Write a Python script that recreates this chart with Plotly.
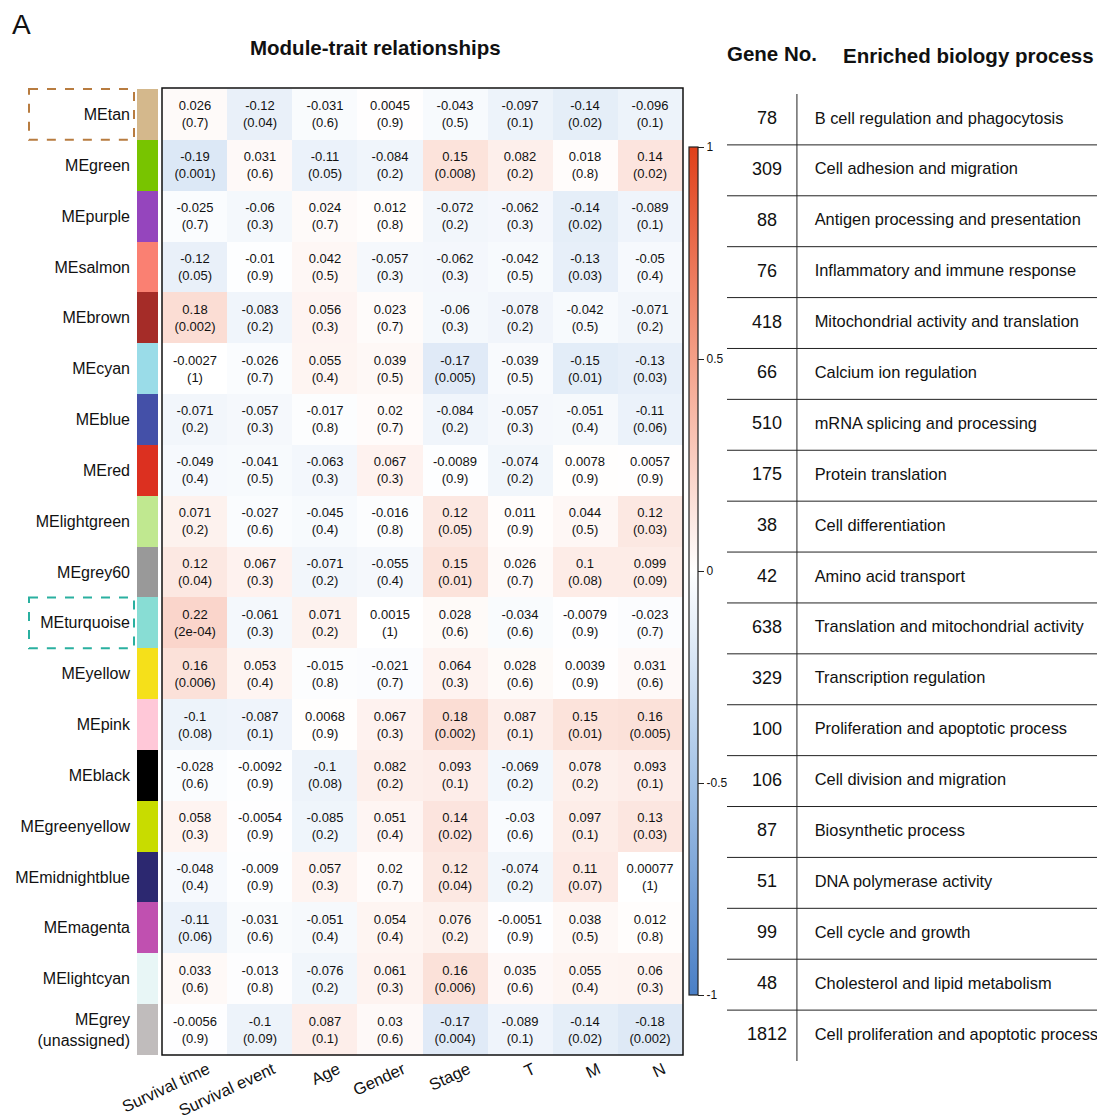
import plotly.graph_objects as go

OFF = 8  # default page body margin
W, H = 1105 - OFF, 1118 - OFF

modules = ["MEtan", "MEgreen", "MEpurple", "MEsalmon", "MEbrown", "MEcyan", "MEblue", "MEred",
           "MElightgreen", "MEgrey60", "MEturquoise", "MEyellow", "MEpink", "MEblack",
           "MEgreenyellow", "MEmidnightblue", "MEmagenta", "MElightcyan", "MEgrey<br>(unassigned)"]
module_colors = ["#d4b88c", "#78c400", "#9545bd", "#fa8072", "#a52c28", "#9adce8", "#4450a8", "#dc3020",
                 "#c0e890", "#999999", "#88ddd4", "#f5e01a", "#ffc8d8", "#000000",
                 "#c8dc00", "#2c2870", "#c050b0", "#e8f6f6", "#c0bcbc"]
traits = ["Survival time", "Survival event", "Age", "Gender", "Stage", "T", "M", "N"]

cor = [
    [0.026, -0.12, -0.031, 0.0045, -0.043, -0.097, -0.14, -0.096],
    [-0.19, 0.031, -0.11, -0.084, 0.15, 0.082, 0.018, 0.14],
    [-0.025, -0.06, 0.024, 0.012, -0.072, -0.062, -0.14, -0.089],
    [-0.12, -0.01, 0.042, -0.057, -0.062, -0.042, -0.13, -0.05],
    [0.18, -0.083, 0.056, 0.023, -0.06, -0.078, -0.042, -0.071],
    [-0.0027, -0.026, 0.055, 0.039, -0.17, -0.039, -0.15, -0.13],
    [-0.071, -0.057, -0.017, 0.02, -0.084, -0.057, -0.051, -0.11],
    [-0.049, -0.041, -0.063, 0.067, -0.0089, -0.074, 0.0078, 0.0057],
    [0.071, -0.027, -0.045, -0.016, 0.12, 0.011, 0.044, 0.12],
    [0.12, 0.067, -0.071, -0.055, 0.15, 0.026, 0.1, 0.099],
    [0.22, -0.061, 0.071, 0.0015, 0.028, -0.034, -0.0079, -0.023],
    [0.16, 0.053, -0.015, -0.021, 0.064, 0.028, 0.0039, 0.031],
    [-0.1, -0.087, 0.0068, 0.067, 0.18, 0.087, 0.15, 0.16],
    [-0.028, -0.0092, -0.1, 0.082, 0.093, -0.069, 0.078, 0.093],
    [0.058, -0.0054, -0.085, 0.051, 0.14, -0.03, 0.097, 0.13],
    [-0.048, -0.009, 0.057, 0.02, 0.12, -0.074, 0.11, 0.00077],
    [-0.11, -0.031, -0.051, 0.054, 0.076, -0.0051, 0.038, 0.012],
    [0.033, -0.013, -0.076, 0.061, 0.16, 0.035, 0.055, 0.06],
    [-0.0056, -0.1, 0.087, 0.03, -0.17, -0.089, -0.14, -0.18],
]
pval = [
    ["0.7", "0.04", "0.6", "0.9", "0.5", "0.1", "0.02", "0.1"],
    ["0.001", "0.6", "0.05", "0.2", "0.008", "0.2", "0.8", "0.02"],
    ["0.7", "0.3", "0.7", "0.8", "0.2", "0.3", "0.02", "0.1"],
    ["0.05", "0.9", "0.5", "0.3", "0.3", "0.5", "0.03", "0.4"],
    ["0.002", "0.2", "0.3", "0.7", "0.3", "0.2", "0.5", "0.2"],
    ["1", "0.7", "0.4", "0.5", "0.005", "0.5", "0.01", "0.03"],
    ["0.2", "0.3", "0.8", "0.7", "0.2", "0.3", "0.4", "0.06"],
    ["0.4", "0.5", "0.3", "0.3", "0.9", "0.2", "0.9", "0.9"],
    ["0.2", "0.6", "0.4", "0.8", "0.05", "0.9", "0.5", "0.03"],
    ["0.04", "0.3", "0.2", "0.4", "0.01", "0.7", "0.08", "0.09"],
    ["2e-04", "0.3", "0.2", "1", "0.6", "0.6", "0.9", "0.7"],
    ["0.006", "0.4", "0.8", "0.7", "0.3", "0.6", "0.9", "0.6"],
    ["0.08", "0.1", "0.9", "0.3", "0.002", "0.1", "0.01", "0.005"],
    ["0.6", "0.9", "0.08", "0.2", "0.1", "0.2", "0.2", "0.1"],
    ["0.3", "0.9", "0.2", "0.4", "0.02", "0.6", "0.1", "0.03"],
    ["0.4", "0.9", "0.3", "0.7", "0.04", "0.2", "0.07", "1"],
    ["0.06", "0.6", "0.4", "0.4", "0.2", "0.9", "0.5", "0.8"],
    ["0.6", "0.8", "0.2", "0.3", "0.006", "0.6", "0.4", "0.3"],
    ["0.9", "0.09", "0.1", "0.6", "0.004", "0.1", "0.02", "0.002"],
]
gene_no = ["78", "309", "88", "76", "418", "66", "510", "175", "38", "42", "638", "329",
           "100", "106", "87", "51", "99", "48", "1812"]
processes = ["B cell regulation and phagocytosis", "Cell adhesion and migration",
             "Antigen processing and presentation", "Inflammatory and immune response",
             "Mitochondrial activity and translation", "Calcium ion regulation",
             "mRNA splicing and processing", "Protein translation", "Cell differentiation",
             "Amino acid transport", "Translation and mitochondrial activity",
             "Transcription regulation", "Proliferation and apoptotic process",
             "Cell division and migration", "Biosynthetic process", "DNA polymerase activity",
             "Cell cycle and growth", "Cholesterol and lipid metabolism",
             "Cell proliferation and apoptotic process"]
highlight = {"MEtan": "#b87c40", "MEturquoise": "#2ab0a0"}

FONT = "Liberation Sans, Arial, Helvetica, sans-serif"


def px(x):
    return (x - OFF) / W


def py(y):
    return 1 - (y - OFF) / H


cell_text = [[f"{cor[i][j]:g}<br>({pval[i][j]})" for j in range(len(traits))] for i in range(len(modules))]

fig = go.Figure()

colorscale = [[0.0, "#4a7fc6"], [0.25, "#a3c2e6"], [0.5, "#ffffff"], [0.75, "#f4a088"], [1.0, "#e0401a"]]

fig.add_trace(go.Heatmap(
    z=cor, x=traits, y=modules, text=cell_text, texttemplate="%{text}",
    textfont=dict(family=FONT, size=13, color="#111111"),
    zmin=-1, zmax=1, colorscale=colorscale, xaxis="x", yaxis="y",
    hoverinfo="skip",
    colorbar=dict(x=px(689), xanchor="left", xpad=0, y=py(571), yanchor="middle", ypad=0,
                  len=848 / H, lenmode="fraction", thickness=9, outlinewidth=1.2, outlinecolor="#222",
                  tickvals=[-1, -0.5, 0, 0.5, 1], ticktext=["-1", "-0.5", "0", "0.5", "1"],
                  ticks="outside", ticklen=6, tickcolor="#222", tickwidth=1,
                  tickfont=dict(family=FONT, size=12, color="#111")),
))

n = len(modules)
strip_scale = [[i / (n - 1), c] for i, c in enumerate(module_colors)]
fig.add_trace(go.Heatmap(
    z=[[i] for i in range(n)], x=["color"], y=modules, zmin=0, zmax=n - 1,
    colorscale=strip_scale, showscale=False, xaxis="x2", yaxis="y", hoverinfo="skip",
))

fig.add_trace(go.Scatter(
    x=[0.106] * n, y=modules, mode="text", text=gene_no, textposition="middle center",
    textfont=dict(family=FONT, size=18, color="#111"), xaxis="x3", yaxis="y2",
    hoverinfo="skip", showlegend=False,
))
fig.add_trace(go.Scatter(
    x=[0.232] * n, y=modules, mode="text", text=processes, textposition="middle right",
    textfont=dict(family=FONT, size=16.4, color="#111"), xaxis="x3", yaxis="y2",
    hoverinfo="skip", showlegend=False, cliponaxis=False,
))

shapes = []
shapes.append(dict(type="rect", xref="x domain", yref="y domain", x0=0, x1=1, y0=0, y1=1,
                   line=dict(color="#111", width=1.5), fillcolor="rgba(0,0,0,0)"))
for i in range(n - 1):
    shapes.append(dict(type="line", xref="x3", yref="y2", x0=0, x1=1, y0=i + 0.5, y1=i + 0.5,
                       line=dict(color="#222", width=1)))
shapes.append(dict(type="line", xref="x3", yref="y2", x0=0.185, x1=0.185, y0=-0.56, y1=n - 0.5,
                   line=dict(color="#222", width=1)))
for name, col in highlight.items():
    i = modules.index(name)
    shapes.append(dict(type="rect", xref="paper", yref="y", x0=px(29), x1=px(134),
                       y0=i - 0.5, y1=i + 0.5, line=dict(color=col, width=2, dash="dash"),
                       fillcolor="rgba(0,0,0,0)"))

annotations = [
    dict(text="A", x=px(11), y=1.0, xref="paper", yref="paper", xanchor="left", yanchor="top",
         showarrow=False, font=dict(family=FONT, size=28, color="#111"), borderpad=0),
    dict(text="<b>Module-trait relationships</b>", x=px(375), y=py(48), xref="paper", yref="paper",
         xanchor="center", yanchor="middle", showarrow=False, font=dict(family=FONT, size=20.5, color="#111")),
    dict(text="<b>Gene No.</b>", x=px(772), y=py(53), xref="paper", yref="paper",
         xanchor="center", yanchor="middle", showarrow=False, font=dict(family=FONT, size=20.5, color="#111")),
    dict(text="<b>Enriched biology process</b>", x=px(968), y=py(55), xref="paper", yref="paper",
         xanchor="center", yanchor="middle", showarrow=False, font=dict(family=FONT, size=20.5, color="#111")),
]

fig.update_layout(
    width=W, height=H, margin=dict(l=0, r=0, t=0, b=0, autoexpand=False),
    paper_bgcolor="white", plot_bgcolor="white", showlegend=False,
    shapes=shapes, annotations=annotations,
    xaxis=dict(domain=[px(162), px(683)], anchor="y", showgrid=False, zeroline=False, automargin=False,
               tickangle=-25, ticks="", tickfont=dict(family=FONT, size=16.5, color="#111"),
               ticklabelstandoff=1, ticklabelshift=13),
    xaxis2=dict(domain=[px(137), px(158)], anchor="y", showgrid=False, zeroline=False, automargin=False,
                showticklabels=False, ticks=""),
    xaxis3=dict(domain=[px(727), 1.0], anchor="y2", range=[0, 1], showgrid=False, zeroline=False,
                automargin=False, showticklabels=False, ticks="", visible=False),
    yaxis=dict(domain=[py(1055), py(88)], anchor="x2", autorange="reversed", showgrid=False,
               zeroline=False, automargin=False, ticks="", tickfont=dict(family=FONT, size=16, color="#111"),
               ticklabelstandoff=6),
    yaxis2=dict(domain=[py(1061), py(94)], anchor="x3", range=[n - 0.5, -0.5], showgrid=False,
                zeroline=False, automargin=False, showticklabels=False, ticks="", visible=False),
)

fig.write_html("out.html")
